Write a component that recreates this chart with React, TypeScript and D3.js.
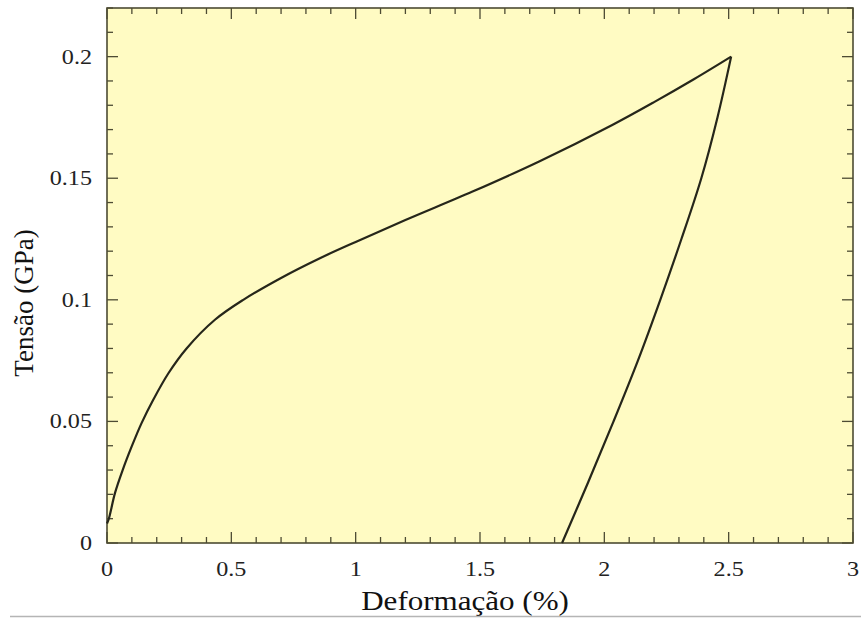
import React from 'react'
import * as d3 from 'd3'

// loading branch (strain %, stress GPa)
const loadStrain = [0, 0.008, 0.032, 0.063, 0.099, 0.139, 0.186, 0.247, 0.32, 0.434, 0.548, 0.7, 0.85, 1.0, 1.2, 1.47, 1.74, 2.03, 2.2, 2.36, 2.51]
const loadStress = [0.008, 0.0102, 0.0205, 0.03, 0.0396, 0.0493, 0.0589, 0.0698, 0.08, 0.0918, 0.1, 0.109, 0.1168, 0.1238, 0.1328, 0.1445, 0.157, 0.1718, 0.1813, 0.1907, 0.2]

// unloading branch
const unloadStrain = [2.51, 2.455, 2.39, 2.31, 2.225, 2.135, 2.037, 1.935, 1.83]
const unloadStress = [0.2, 0.175, 0.15, 0.125, 0.1, 0.075, 0.05, 0.025, 0]

const xTicks = [0, 0.5, 1, 1.5, 2, 2.5, 3]
const yTicks = [0, 0.05, 0.1, 0.15, 0.2]
const xTickLabels = ['0', '0.5', '1', '1.5', '2', '2.5', '3']
const yTickLabels = ['0', '0.05', '0.1', '0.15', '0.2']

const W = 861
const H = 620
const left = 107, right = 853, top = 8, bottom = 543

export default function App () {
  const x = d3.scaleLinear().domain([0, 3]).range([left, right])
  const y = d3.scaleLinear().domain([0, 0.22]).range([bottom, top])

  const line = d3.line<[number, number]>()
    .x(d => x(d[0]))
    .y(d => y(d[1]))
    .curve(d3.curveCatmullRom.alpha(0.5))

  const loadPts = loadStrain.map((v, i) => [v, loadStress[i]] as [number, number])
  const unloadPts = unloadStrain.map((v, i) => [v, unloadStress[i]] as [number, number])

  const xMinor = d3.range(0, 31).map(i => i / 10)
  const yMinor = d3.range(0, 23).map(i => i / 100)
  const isMajorX = (v: number) => Math.abs(v * 2 - Math.round(v * 2)) < 1e-6
  const isMajorY = (v: number) => Math.abs(v * 20 - Math.round(v * 20)) < 1e-6

  const axisColor = '#4d4b33'
  const font = '"Liberation Serif", "Times New Roman", serif'

  return (
    <svg width={W} height={H} style={{ position: 'absolute', left: 0, top: 0, background: '#fff' }}>
      <rect x={left} y={top} width={right - left} height={bottom - top} fill='#fffbc3' />

      {/* ticks on all four sides, pointing inward */}
      {xMinor.map((v, i) => {
        const len = isMajorX(v) ? 11 : 6
        return (
          <g key={'xt' + i} stroke={axisColor} strokeWidth={1.3}>
            <line x1={x(v)} x2={x(v)} y1={bottom} y2={bottom - len} />
            <line x1={x(v)} x2={x(v)} y1={top} y2={top + len} />
          </g>
        )
      })}
      {yMinor.map((v, i) => {
        const len = isMajorY(v) ? 11 : 6
        return (
          <g key={'yt' + i} stroke={axisColor} strokeWidth={1.3}>
            <line x1={left} x2={left + len} y1={y(v)} y2={y(v)} />
            <line x1={right} x2={right - len} y1={y(v)} y2={y(v)} />
          </g>
        )
      })}

      <rect x={left} y={top} width={right - left} height={bottom - top} fill='none' stroke={axisColor} strokeWidth={1.6} />

      <path d={line(loadPts) || ''} fill='none' stroke='#26261a' strokeWidth={2.2} />
      <path d={line(unloadPts) || ''} fill='none' stroke='#26261a' strokeWidth={2.2} />

      {xTicks.map((v, i) => (
        <text key={'xl' + i} transform={`translate(${x(v)},576) scale(1.15,1)`} textAnchor='middle'
          fontFamily={font} fontSize={21} fill='#222'>{xTickLabels[i]}</text>
      ))}
      {yTicks.map((v, i) => (
        <text key={'yl' + i} transform={`translate(92,${y(v) + 7}) scale(1.15,1)`} textAnchor='end'
          fontFamily={font} fontSize={21} fill='#222'>{yTickLabels[i]}</text>
      ))}

      <text transform='translate(465,610) scale(1.15,1)' textAnchor='middle' fontFamily={font} fontSize={27} fill='#111'>Deformação (%)</text>
      <text transform='translate(33,303) rotate(-90)' textAnchor='middle' fontFamily={font} fontSize={27} fill='#111'>Tensão (GPa)</text>

      <line x1={10} x2={861} y1={616.5} y2={616.5} stroke='#b5b5b5' strokeWidth={1.5} />
    </svg>
  )
}
